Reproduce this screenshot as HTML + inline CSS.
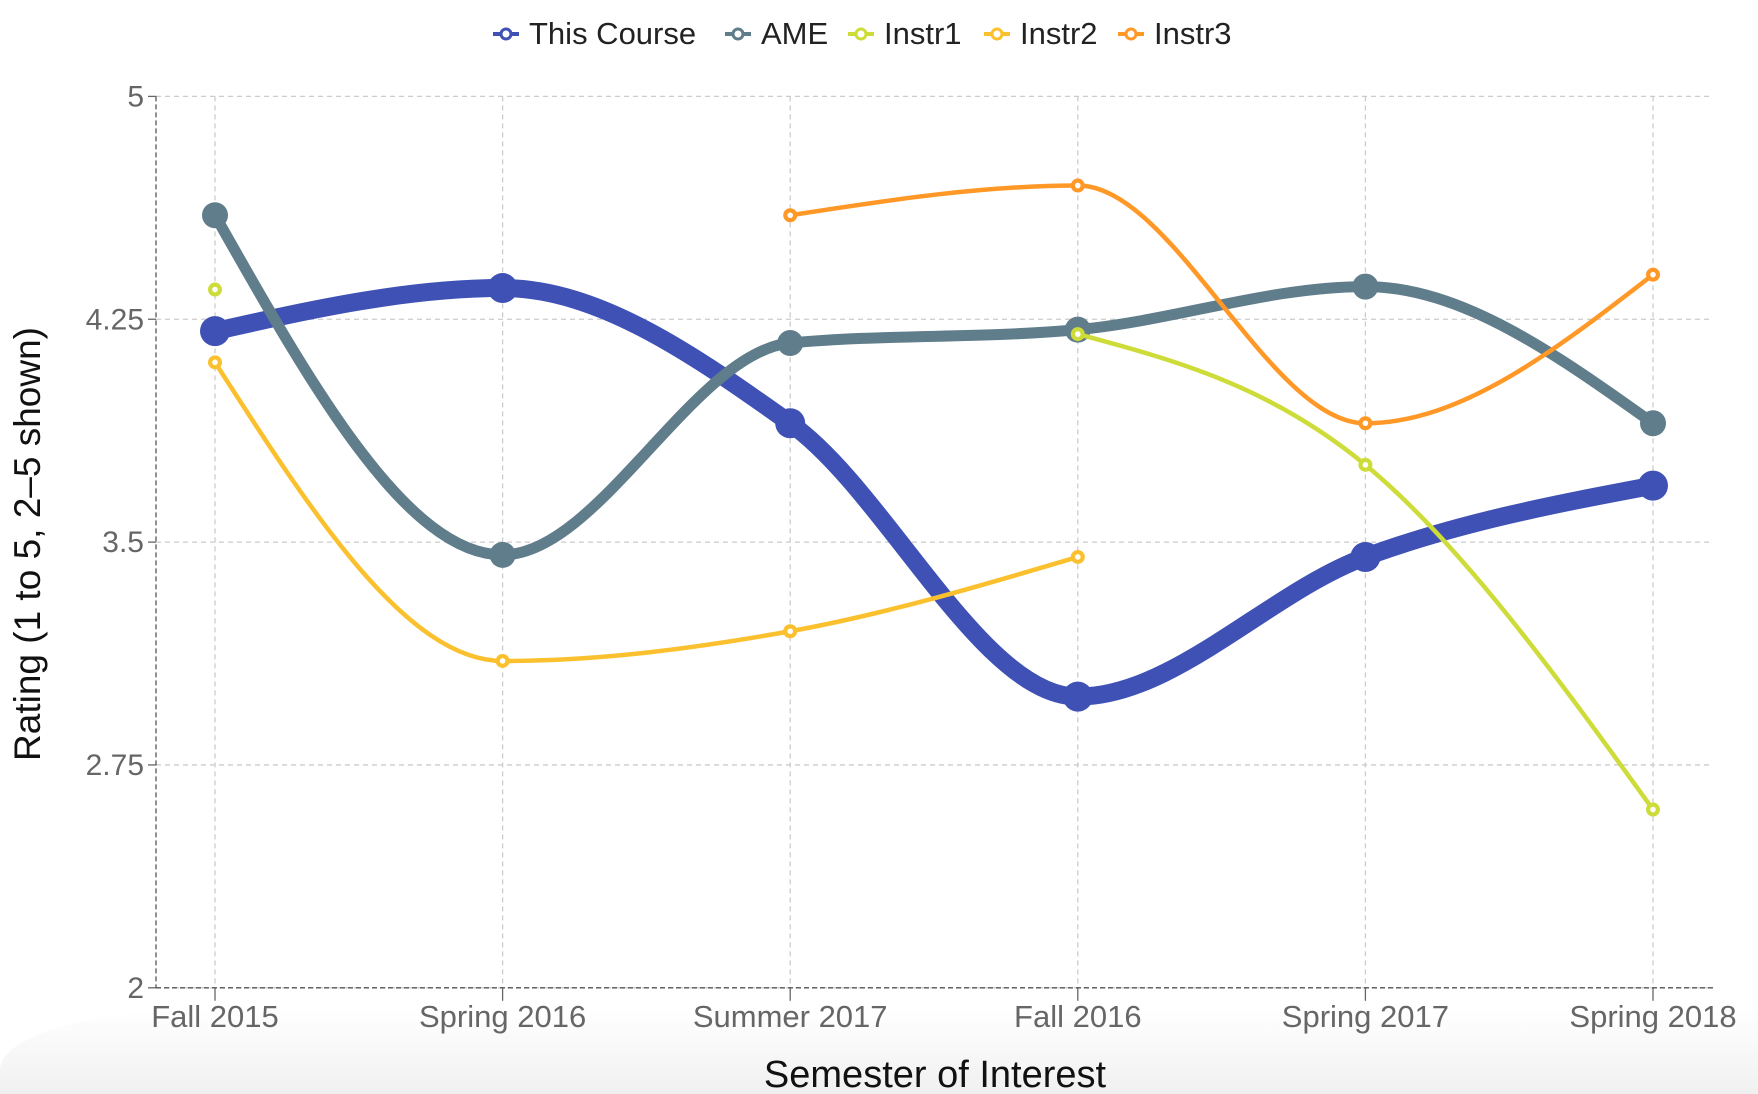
<!DOCTYPE html>
<html><head><meta charset="utf-8"><style>
html,body{margin:0;padding:0;background:#fff;}
body{width:1758px;height:1094px;overflow:hidden;position:relative;font-family:"Liberation Sans",sans-serif;}
#shade{position:absolute;left:0;top:1010px;width:1758px;height:84px;background:linear-gradient(#fff,#f0f0f0);border-top-left-radius:200px 60px;}
</style></head><body>
<div id="shade"></div>
<svg id="chart" width="1758" height="1094" style="position:absolute;left:0;top:0"></svg>
<script>
const categories=["Fall 2015","Spring 2016","Summer 2017","Fall 2016","Spring 2017","Spring 2018"];
const seriesNames=["This Course","AME","Instr1","Instr2","Instr3"];
const thisCourse=[4.21,4.355,3.90,2.98,3.45,3.69];
const ame=[4.60,3.457,4.17,4.215,4.36,3.90];
const instr1=[4.35,null,null,4.20,3.76,2.60];
const instr2=[4.105,3.10,3.20,3.45,null,null];
const instr3=[null,null,4.60,4.70,3.90,4.40];
const yTicks=[2,2.75,3.5,4.25,5];
const yTickLabels=["2","2.75","3.5","4.25","5"];

const NS="http://www.w3.org/2000/svg";
const svg=document.getElementById('chart');
const L=156,R=1713,T=96.4,B=987.8;
const x0=215,xStep=287.6;
function xs(i){return x0+i*xStep;}
function ys(v){return B-(v-2)/3*(B-T);}
function mk(tag,attrs,parent){const e=document.createElementNS(NS,tag);for(const k in attrs)e.setAttribute(k,attrs[k]);(parent||svg).appendChild(e);return e;}

yTicks.forEach((t,i)=>{
 const g=mk('line',{x1:L,x2:R,y1:ys(t),y2:ys(t),stroke:'#ccc','stroke-dasharray':'5,4','stroke-width':1.3});
 
 
 const tk=mk('line',{x1:L-8,x2:L,y1:ys(t),y2:ys(t),stroke:'#666','stroke-width':1.3});
 
 
 const tx=mk('text',{x:L-12,y:ys(t)+10,'text-anchor':'end','font-size':30,fill:'#666'});
 tx.textContent=yTickLabels[i];
 
 
});
categories.forEach((c,i)=>{
 const g=mk('line',{x1:xs(i),x2:xs(i),y1:T,y2:B,stroke:'#ccc','stroke-dasharray':'5,4','stroke-width':1.3});
 
 
 const tk=mk('line',{x1:xs(i),x2:xs(i),y1:B,y2:B+13,stroke:'#666','stroke-width':1.3});
 
 
 const tx=mk('text',{x:xs(i),y:B+39,'text-anchor':'middle','font-size':31,fill:'#666'});
 tx.textContent=c;
 
 
});
const ax1=mk('line',{x1:L,x2:L,y1:T,y2:B,stroke:'#555','stroke-dasharray':'5,3','stroke-width':1.3});


const ax2=mk('line',{x1:L,x2:R,y1:B,y2:B,stroke:'#555','stroke-dasharray':'5,3','stroke-width':1.3});



const yt=mk('text',{transform:'translate(40,544) rotate(-90)','text-anchor':'middle','font-size':37,fill:'#111'});
yt.textContent="Rating (1 to 5, 2\u20135 shown)";


const xt=mk('text',{x:935,y:1087,'text-anchor':'middle','font-size':38,fill:'#111'});
xt.textContent="Semester of Interest";



function monoPath(pts){
 const n=pts.length; if(n===1) return '';
 if(n===2) return `M${pts[0][0]},${pts[0][1]}L${pts[1][0]},${pts[1][1]}`;
 const d=[],m=[];
 for(let i=0;i<n-1;i++) d.push((pts[i+1][1]-pts[i][1])/(pts[i+1][0]-pts[i][0]));
 for(let i=1;i<n-1;i++){
  if(d[i-1]*d[i]<=0) m[i]=0;
  else {const h0=pts[i][0]-pts[i-1][0],h1=pts[i+1][0]-pts[i][0];
   const p=(d[i-1]*h1+d[i]*h0)/(h0+h1);
   m[i]=(Math.sign(d[i-1])+Math.sign(d[i]))*Math.min(Math.abs(d[i-1]),Math.abs(d[i]),0.5*Math.abs(p));}
 }
 m[0]=(3*d[0]-m[1])/2;
 m[n-1]=(3*d[n-2]-m[n-2])/2;
 let s=`M${pts[0][0]},${pts[0][1]}`;
 for(let i=0;i<n-1;i++){
  const dx=(pts[i+1][0]-pts[i][0])/3;
  s+=`C${pts[i][0]+dx},${pts[i][1]+dx*m[i]} ${pts[i+1][0]-dx},${pts[i+1][1]-dx*m[i+1]} ${pts[i+1][0]},${pts[i+1][1]}`;
 }
 return s;
}
const specs=[
 {vals:thisCourse,color:'#3f51b5',w:18,r:15,name:'this-course'},
 {vals:ame,color:'#607d8b',w:11,r:13,name:'ame'},
 {vals:instr1,color:'#cddc39',w:4.5,r:7,name:'instr1'},
 {vals:instr2,color:'#fbc02d',w:4.5,r:7,name:'instr2'},
 {vals:instr3,color:'#ff9826',w:4.5,r:7,name:'instr3'}
];
const order=[0,1,3,2,4];
order.forEach(k=>{
 const s=specs[k];
 let seg=[],segs=[];
 s.vals.forEach((v,i)=>{ if(v==null){if(seg.length)segs.push(seg);seg=[];} else seg.push([xs(i),ys(v)]); });
 if(seg.length)segs.push(seg);
 segs.forEach(sg=>{
  if(sg.length>1){
   const p=mk('path',{d:monoPath(sg),fill:'none',stroke:s.color,'stroke-width':s.w,'stroke-linecap':'round'});
   
   
  }
 });
 s.vals.forEach((v,i)=>{
  if(v==null) return;
  const c=mk('circle',{cx:xs(i),cy:ys(v),r:s.r,fill:s.color});
  
  
  if(s.r<10){
   const c2=mk('circle',{cx:xs(i),cy:ys(v),r:2.8,fill:'#fff'});
   
   
  }
 });
});

const legX=[493,725,848,984,1118];
specs.forEach((s,i)=>{
 const g=mk('g',{});
 
 
 mk('line',{x1:legX[i],x2:legX[i]+26,y1:34,y2:34,stroke:s.color,'stroke-width':4},g);
 mk('circle',{cx:legX[i]+13,cy:34,r:5,fill:'#fff',stroke:s.color,'stroke-width':3},g);
 const t=mk('text',{x:legX[i]+36,y:44,'font-size':31,fill:'#222'},g);
 t.textContent=seriesNames[i];
});
</script>
</body></html>
